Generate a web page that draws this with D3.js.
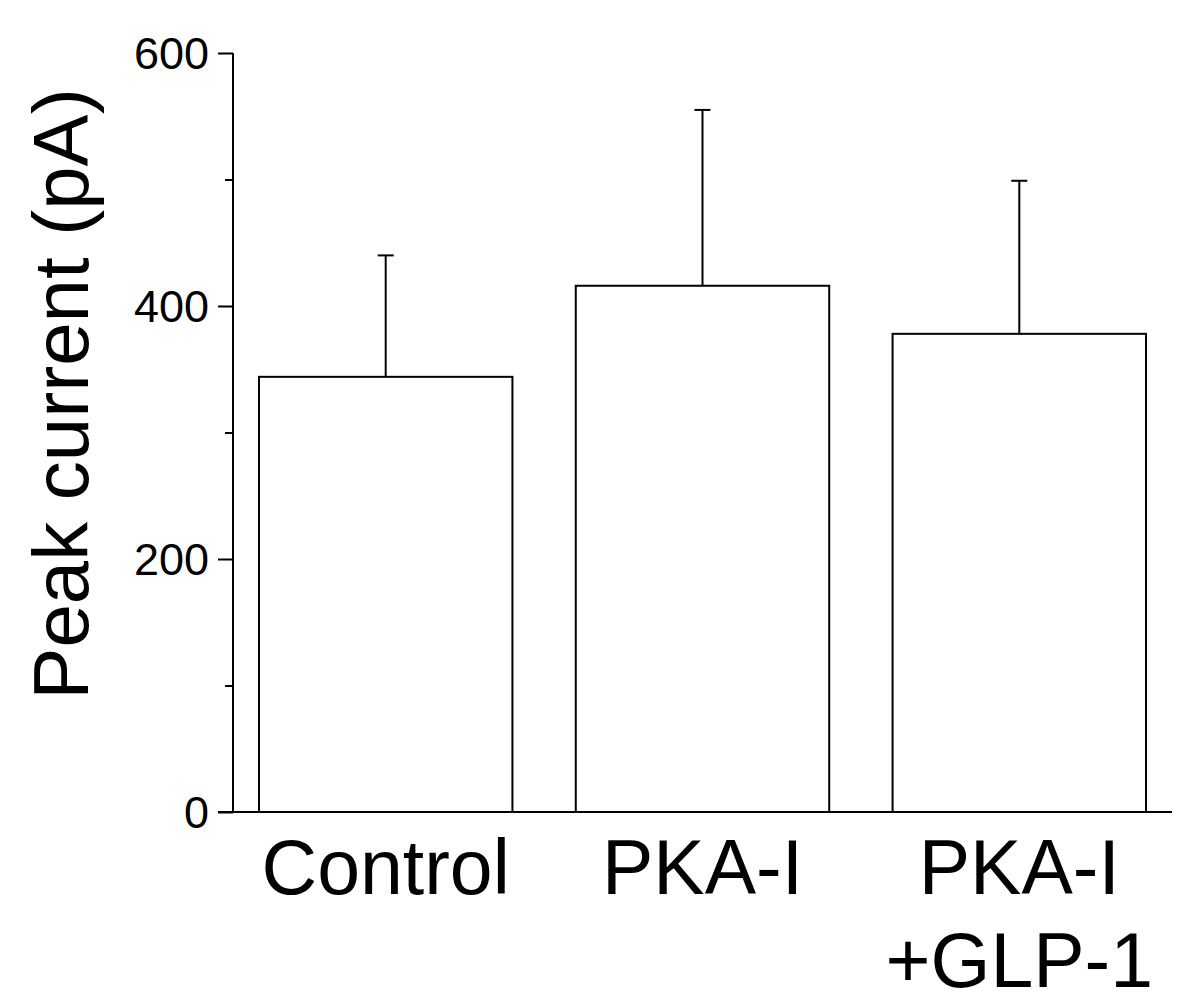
<!DOCTYPE html>
<html>
<head>
<meta charset="utf-8">
<script src="https://cdn.jsdelivr.net/npm/d3@7"></script>
<style>
  body { margin: 0; background: #fff; }
  text { font-family: "Liberation Sans", Arial, sans-serif; fill: #000; }
</style>
</head>
<body>
<div id="chart"></div>
<script>
var groups = ["Control", "PKA-I", "PKA-I\n+GLP-1"];
var means = [344, 416, 378];
var errors = [96, 139, 121];
var majorTicks = [0, 200, 400, 600];
var minorTicks = [100, 300, 500];

var width = 1200, height = 1006;
var margin = {top: 53, right: 28, bottom: 194, left: 233};

var svg = d3.select("#chart")
  .append("svg")
    .attr("width", width)
    .attr("height", height);

var x = d3.scaleBand()
  .domain(groups)
  .range([margin.left, width - margin.right])
  .paddingInner(0.2)
  .paddingOuter(0.082);

var y = d3.scaleLinear()
  .domain([0, 600])
  .range([height - margin.bottom, margin.top]);

// bars
svg.selectAll(".bar")
  .data(groups).enter()
  .append("rect")
    .attr("x", function(d) { return x(d); })
    .attr("y", function(d, i) { return y(means[i]); })
    .attr("width", x.bandwidth())
    .attr("height", function(d, i) { return y(0) - y(means[i]); })
    .style("fill", "#fff")
    .style("stroke", "#000")
    .style("stroke-width", 2);

// error bars, upper only
var err = svg.selectAll(".err")
  .data(groups).enter()
  .append("g");

err.append("line")
  .attr("x1", function(d) { return x(d) + x.bandwidth() / 2; })
  .attr("x2", function(d) { return x(d) + x.bandwidth() / 2; })
  .attr("y1", function(d, i) { return y(means[i]); })
  .attr("y2", function(d, i) { return y(means[i] + errors[i]); })
  .style("stroke", "#000")
  .style("stroke-width", 2);

err.append("line")
  .attr("x1", function(d) { return x(d) + x.bandwidth() / 2 - 8; })
  .attr("x2", function(d) { return x(d) + x.bandwidth() / 2 + 8; })
  .attr("y1", function(d, i) { return y(means[i] + errors[i]); })
  .attr("y2", function(d, i) { return y(means[i] + errors[i]); })
  .style("stroke", "#000")
  .style("stroke-width", 2);

// y axis
var yAxis = svg.append("g")
  .attr("transform", "translate(" + margin.left + ",0)")
  .call(d3.axisLeft(y).tickValues(majorTicks).tickSize(15).tickPadding(9).tickFormat(d3.format("d")));

yAxis.select(".domain").remove();
yAxis.append("line")
  .attr("x1", 0).attr("x2", 0)
  .attr("y1", y(600)).attr("y2", y(0))
  .style("stroke", "#000")
  .style("stroke-width", 2);
yAxis.selectAll(".tick line").style("stroke-width", 2);
yAxis.selectAll(".tick text")
  .style("font-size", "45px")
  .style("font-family", "'Liberation Sans', Arial, sans-serif")
  .attr("dy", "0.34em");

svg.append("g")
  .attr("transform", "translate(" + margin.left + ",0)")
  .call(d3.axisLeft(y).tickValues(minorTicks).tickSize(8).tickFormat(""))
  .call(function(g) { g.select(".domain").remove(); })
  .selectAll(".tick line").style("stroke-width", 2);

// x axis line
svg.append("line")
  .attr("x1", margin.left - 15)
  .attr("x2", width - margin.right)
  .attr("y1", y(0))
  .attr("y2", y(0))
  .style("stroke", "#000")
  .style("stroke-width", 2);

// category labels
var lab = svg.selectAll(".lab")
  .data(groups).enter()
  .append("text")
    .attr("text-anchor", "middle")
    .attr("y", 894)
    .style("font-size", "77px");

lab.selectAll("tspan")
  .data(function(d) { return d.split("\n").map(function(s) { return {s: s, g: d}; }); })
  .enter().append("tspan")
    .attr("x", function(d) { return x(d.g) + x.bandwidth() / 2; })
    .attr("dy", function(d, i) { return i === 0 ? 0 : 93; })
    .text(function(d) { return d.s; });

// y title
svg.append("text")
  .attr("transform", "translate(88," + 394 + ") rotate(-90)")
  .attr("text-anchor", "middle")
  .style("font-size", "78px")
  .text("Peak current (pA)");
</script>
</body>
</html>
